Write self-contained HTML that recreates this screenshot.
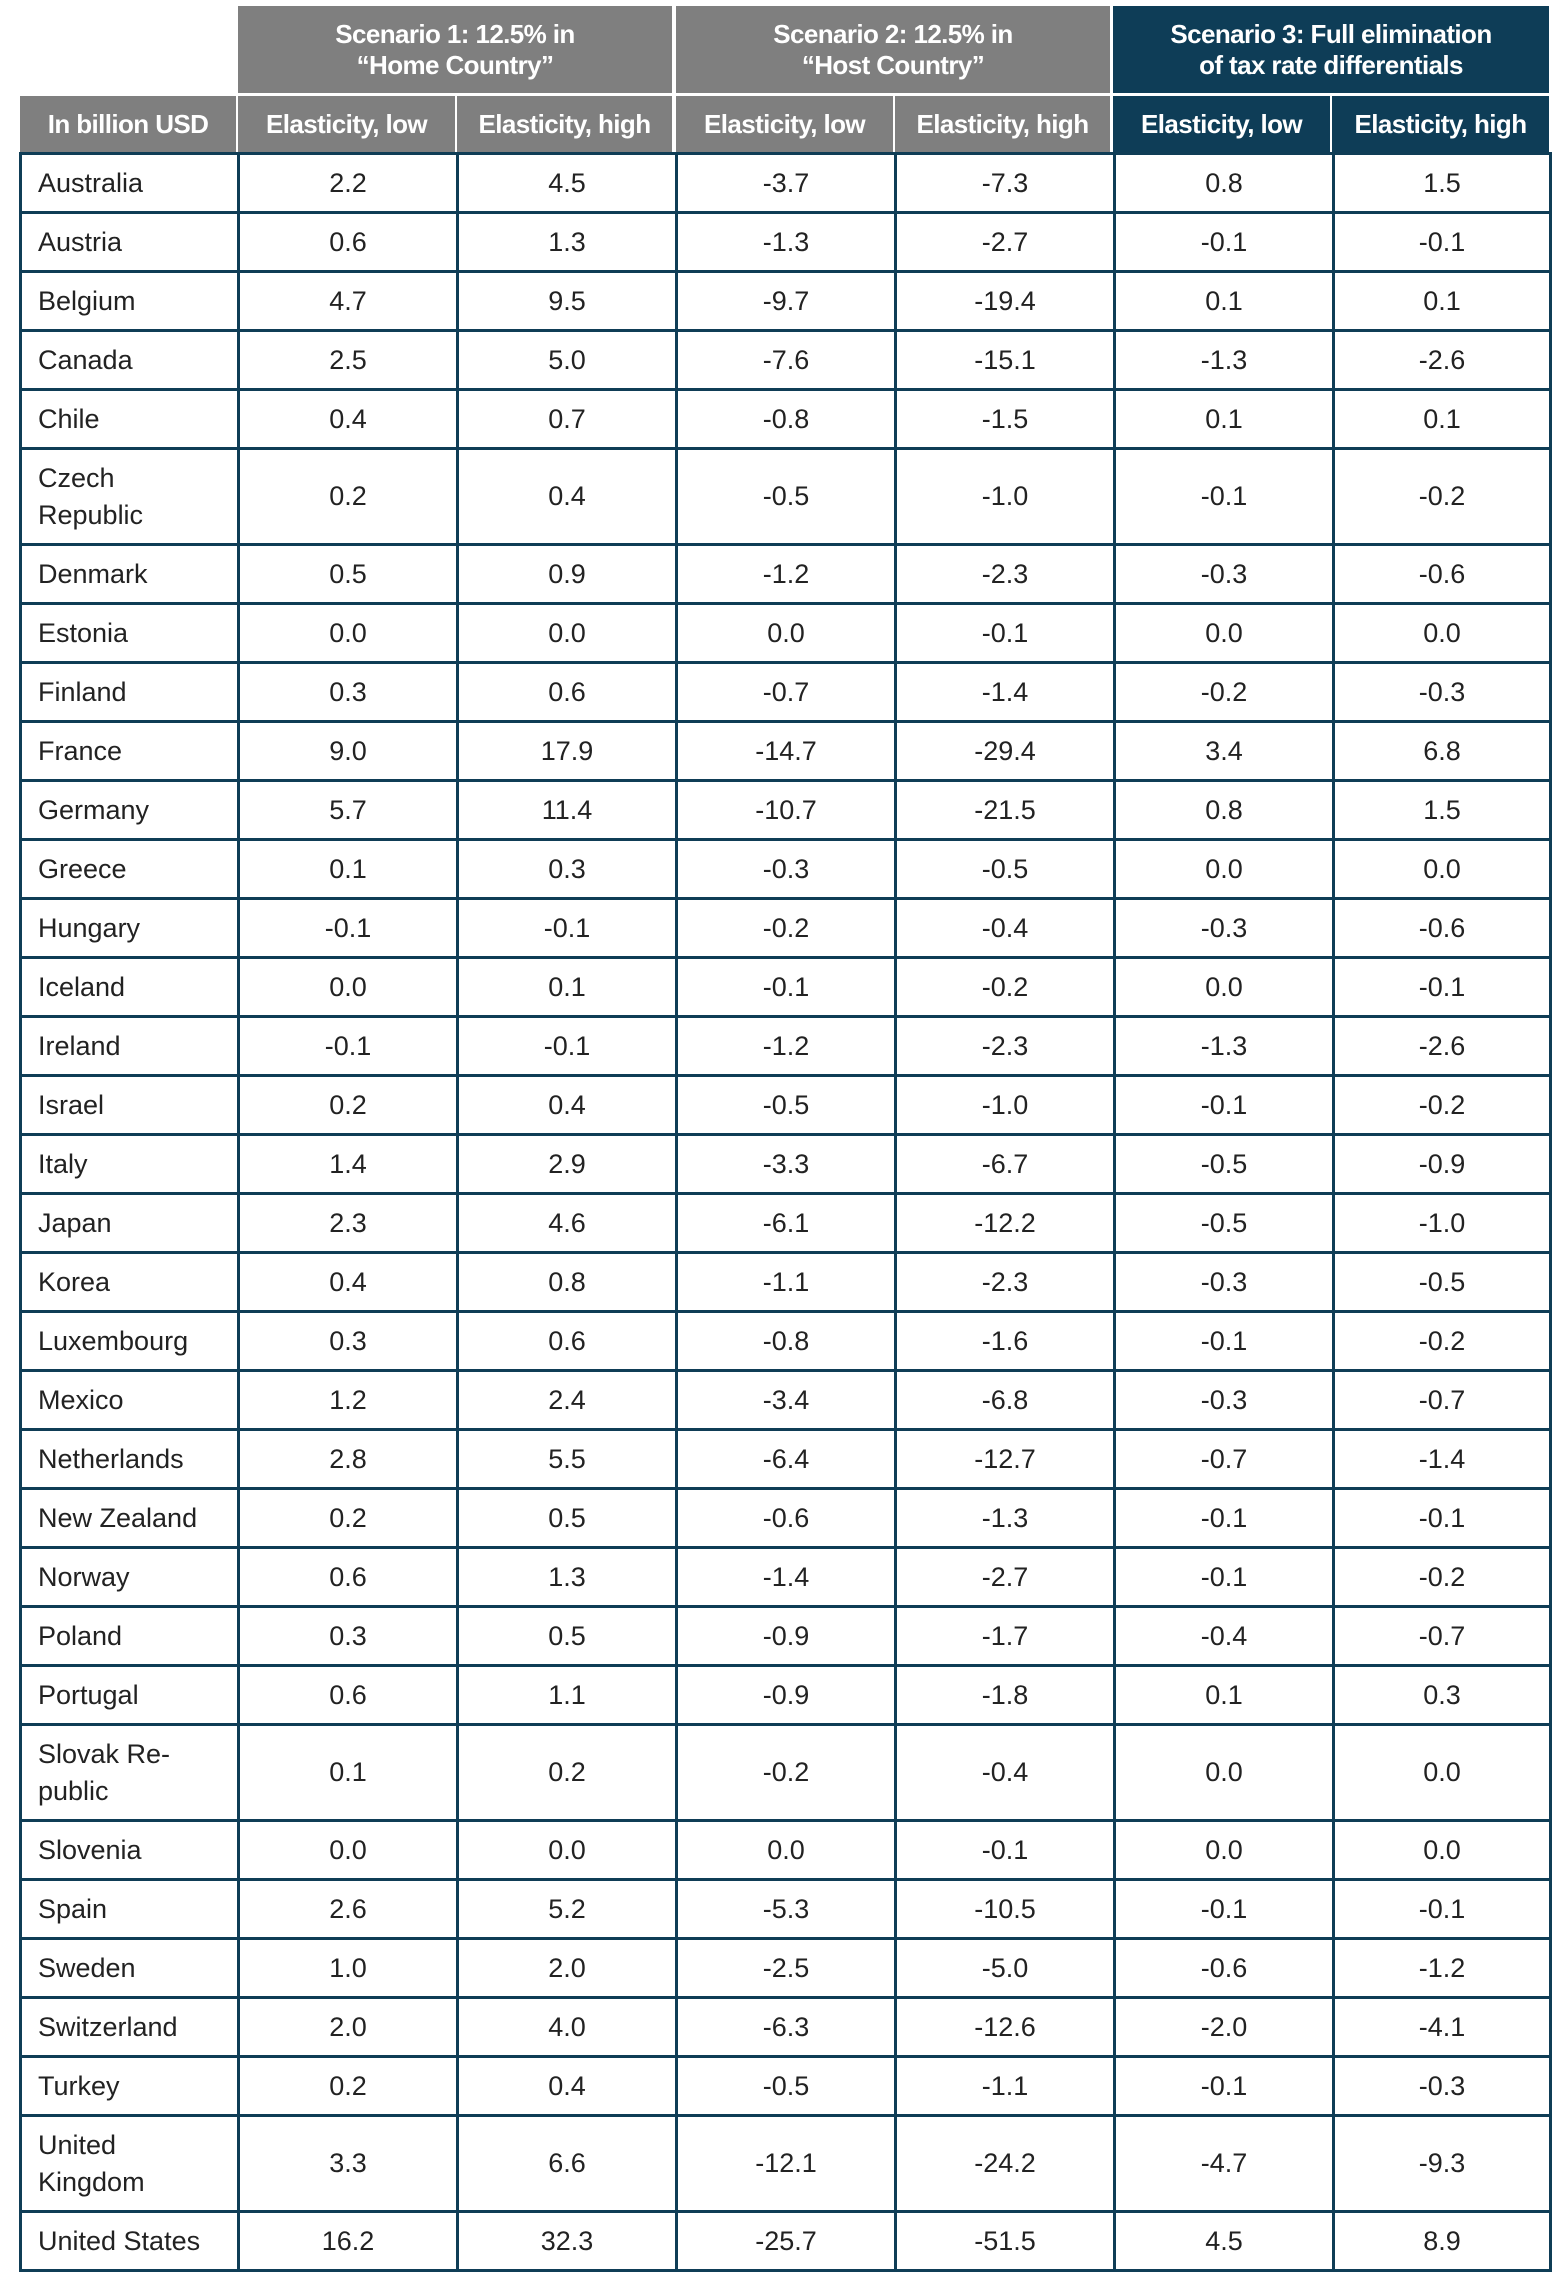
<!DOCTYPE html>
<html><head><meta charset="utf-8"><style>
body{margin:0;width:1568px;height:2284px;background:#fff;position:relative;font-family:"Liberation Sans",sans-serif;overflow:hidden}
.h{position:absolute;color:#fff;display:flex;align-items:center;justify-content:center;text-align:center;font-size:26px;line-height:31px;font-weight:bold;letter-spacing:-0.6px}
.g{background:#7f7f7f}.n{background:#0e3d57}
table{position:absolute;left:19px;top:152px;width:1530px;border-collapse:collapse;table-layout:fixed;font-size:27px;color:#222}
td{border:3px solid #0f3d56;text-align:center;height:56px;padding:0}
td:first-child{text-align:left;padding-left:16px;line-height:37px}
tr.t td{height:93px}
</style></head><body>
<div class="h g" style="left:238px;top:6px;width:434px;height:87px">Scenario 1: 12.5% in<br>“Home Country”</div>
<div class="h g" style="left:676px;top:6px;width:434px;height:87px">Scenario 2: 12.5% in<br>“Host Country”</div>
<div class="h n" style="left:1113px;top:6px;width:436px;height:87px">Scenario 3: Full elimination<br>of tax rate differentials</div>
<div class="h g" style="left:20px;top:96px;width:216px;height:56px">In billion USD</div>
<div class="h g" style="left:238px;top:96px;width:217px;height:56px">Elasticity, low</div>
<div class="h g" style="left:457px;top:96px;width:215px;height:56px">Elasticity, high</div>
<div class="h g" style="left:676px;top:96px;width:217px;height:56px">Elasticity, low</div>
<div class="h g" style="left:895px;top:96px;width:215px;height:56px">Elasticity, high</div>
<div class="h n" style="left:1113px;top:96px;width:217px;height:56px">Elasticity, low</div>
<div class="h n" style="left:1332px;top:96px;width:217px;height:56px">Elasticity, high</div>
<table>
<colgroup><col style="width:218px"><col style="width:219px"><col style="width:219px"><col style="width:219px"><col style="width:219px"><col style="width:219px"><col style="width:217px"></colgroup>
<tr><td>Australia</td><td>2.2</td><td>4.5</td><td>-3.7</td><td>-7.3</td><td>0.8</td><td>1.5</td></tr>
<tr><td>Austria</td><td>0.6</td><td>1.3</td><td>-1.3</td><td>-2.7</td><td>-0.1</td><td>-0.1</td></tr>
<tr><td>Belgium</td><td>4.7</td><td>9.5</td><td>-9.7</td><td>-19.4</td><td>0.1</td><td>0.1</td></tr>
<tr><td>Canada</td><td>2.5</td><td>5.0</td><td>-7.6</td><td>-15.1</td><td>-1.3</td><td>-2.6</td></tr>
<tr><td>Chile</td><td>0.4</td><td>0.7</td><td>-0.8</td><td>-1.5</td><td>0.1</td><td>0.1</td></tr>
<tr class="t"><td>Czech<br>Republic</td><td>0.2</td><td>0.4</td><td>-0.5</td><td>-1.0</td><td>-0.1</td><td>-0.2</td></tr>
<tr><td>Denmark</td><td>0.5</td><td>0.9</td><td>-1.2</td><td>-2.3</td><td>-0.3</td><td>-0.6</td></tr>
<tr><td>Estonia</td><td>0.0</td><td>0.0</td><td>0.0</td><td>-0.1</td><td>0.0</td><td>0.0</td></tr>
<tr><td>Finland</td><td>0.3</td><td>0.6</td><td>-0.7</td><td>-1.4</td><td>-0.2</td><td>-0.3</td></tr>
<tr><td>France</td><td>9.0</td><td>17.9</td><td>-14.7</td><td>-29.4</td><td>3.4</td><td>6.8</td></tr>
<tr><td>Germany</td><td>5.7</td><td>11.4</td><td>-10.7</td><td>-21.5</td><td>0.8</td><td>1.5</td></tr>
<tr><td>Greece</td><td>0.1</td><td>0.3</td><td>-0.3</td><td>-0.5</td><td>0.0</td><td>0.0</td></tr>
<tr><td>Hungary</td><td>-0.1</td><td>-0.1</td><td>-0.2</td><td>-0.4</td><td>-0.3</td><td>-0.6</td></tr>
<tr><td>Iceland</td><td>0.0</td><td>0.1</td><td>-0.1</td><td>-0.2</td><td>0.0</td><td>-0.1</td></tr>
<tr><td>Ireland</td><td>-0.1</td><td>-0.1</td><td>-1.2</td><td>-2.3</td><td>-1.3</td><td>-2.6</td></tr>
<tr><td>Israel</td><td>0.2</td><td>0.4</td><td>-0.5</td><td>-1.0</td><td>-0.1</td><td>-0.2</td></tr>
<tr><td>Italy</td><td>1.4</td><td>2.9</td><td>-3.3</td><td>-6.7</td><td>-0.5</td><td>-0.9</td></tr>
<tr><td>Japan</td><td>2.3</td><td>4.6</td><td>-6.1</td><td>-12.2</td><td>-0.5</td><td>-1.0</td></tr>
<tr><td>Korea</td><td>0.4</td><td>0.8</td><td>-1.1</td><td>-2.3</td><td>-0.3</td><td>-0.5</td></tr>
<tr><td>Luxembourg</td><td>0.3</td><td>0.6</td><td>-0.8</td><td>-1.6</td><td>-0.1</td><td>-0.2</td></tr>
<tr><td>Mexico</td><td>1.2</td><td>2.4</td><td>-3.4</td><td>-6.8</td><td>-0.3</td><td>-0.7</td></tr>
<tr><td>Netherlands</td><td>2.8</td><td>5.5</td><td>-6.4</td><td>-12.7</td><td>-0.7</td><td>-1.4</td></tr>
<tr><td>New Zealand</td><td>0.2</td><td>0.5</td><td>-0.6</td><td>-1.3</td><td>-0.1</td><td>-0.1</td></tr>
<tr><td>Norway</td><td>0.6</td><td>1.3</td><td>-1.4</td><td>-2.7</td><td>-0.1</td><td>-0.2</td></tr>
<tr><td>Poland</td><td>0.3</td><td>0.5</td><td>-0.9</td><td>-1.7</td><td>-0.4</td><td>-0.7</td></tr>
<tr><td>Portugal</td><td>0.6</td><td>1.1</td><td>-0.9</td><td>-1.8</td><td>0.1</td><td>0.3</td></tr>
<tr class="t"><td>Slovak Re-<br>public</td><td>0.1</td><td>0.2</td><td>-0.2</td><td>-0.4</td><td>0.0</td><td>0.0</td></tr>
<tr><td>Slovenia</td><td>0.0</td><td>0.0</td><td>0.0</td><td>-0.1</td><td>0.0</td><td>0.0</td></tr>
<tr><td>Spain</td><td>2.6</td><td>5.2</td><td>-5.3</td><td>-10.5</td><td>-0.1</td><td>-0.1</td></tr>
<tr><td>Sweden</td><td>1.0</td><td>2.0</td><td>-2.5</td><td>-5.0</td><td>-0.6</td><td>-1.2</td></tr>
<tr><td>Switzerland</td><td>2.0</td><td>4.0</td><td>-6.3</td><td>-12.6</td><td>-2.0</td><td>-4.1</td></tr>
<tr><td>Turkey</td><td>0.2</td><td>0.4</td><td>-0.5</td><td>-1.1</td><td>-0.1</td><td>-0.3</td></tr>
<tr class="t"><td>United<br>Kingdom</td><td>3.3</td><td>6.6</td><td>-12.1</td><td>-24.2</td><td>-4.7</td><td>-9.3</td></tr>
<tr><td>United States</td><td>16.2</td><td>32.3</td><td>-25.7</td><td>-51.5</td><td>4.5</td><td>8.9</td></tr>
</table>
</body></html>
